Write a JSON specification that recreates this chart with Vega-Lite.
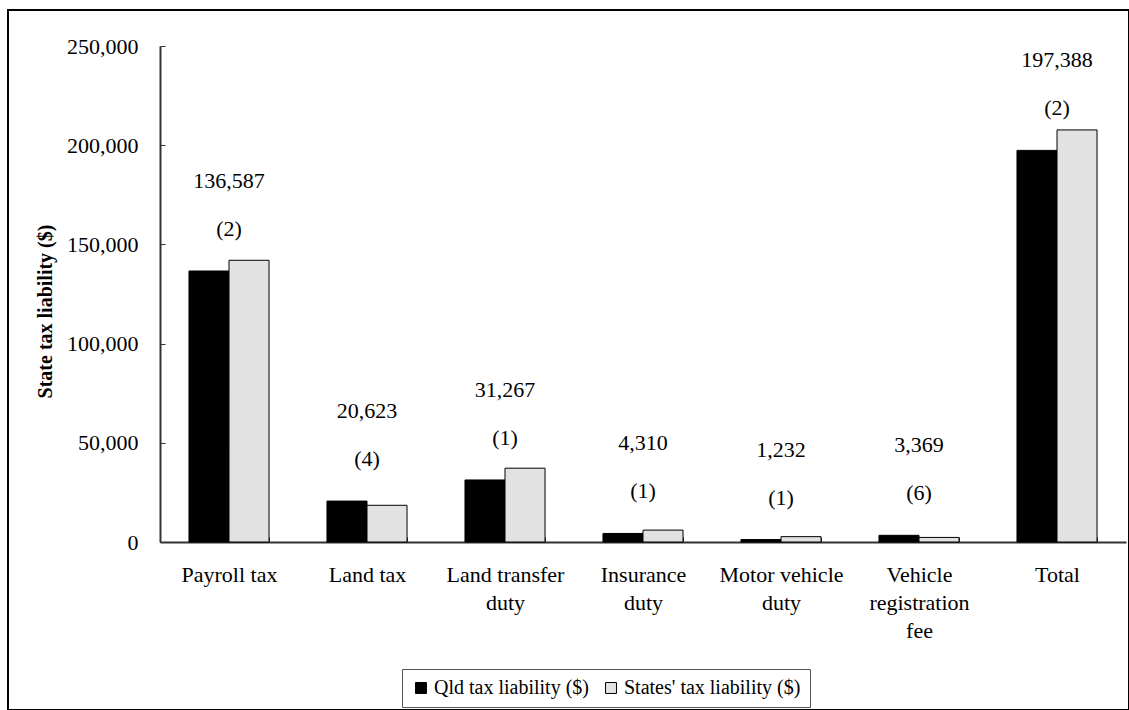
{
  "$schema": "https://vega.github.io/schema/vega-lite/v6.json",
  "autosize": "none",
  "width": 1121,
  "height": 700,
  "padding": {"left": 8, "top": 10, "right": 0, "bottom": 0},
  "background": "#ffffff",
  "config": {
    "view": {"stroke": "#000000", "strokeWidth": 2}
  },
  "data": {
    "values": [
      {"type": "Payroll tax", "series": "Qld tax liability ($)", "value": 136587, "cases": "(2)"},
      {"type": "Payroll tax", "series": "States' tax liability ($)", "value": 142000, "cases": "(2)"},
      {"type": "Land tax", "series": "Qld tax liability ($)", "value": 20623, "cases": "(4)"},
      {"type": "Land tax", "series": "States' tax liability ($)", "value": 18500, "cases": "(4)"},
      {"type": "Land transfer duty", "series": "Qld tax liability ($)", "value": 31267, "cases": "(1)"},
      {"type": "Land transfer duty", "series": "States' tax liability ($)", "value": 37200, "cases": "(1)"},
      {"type": "Insurance duty", "series": "Qld tax liability ($)", "value": 4310, "cases": "(1)"},
      {"type": "Insurance duty", "series": "States' tax liability ($)", "value": 6000, "cases": "(1)"},
      {"type": "Motor vehicle duty", "series": "Qld tax liability ($)", "value": 1232, "cases": "(1)"},
      {"type": "Motor vehicle duty", "series": "States' tax liability ($)", "value": 2700, "cases": "(1)"},
      {"type": "Vehicle registration fee", "series": "Qld tax liability ($)", "value": 3369, "cases": "(6)"},
      {"type": "Vehicle registration fee", "series": "States' tax liability ($)", "value": 2300, "cases": "(6)"},
      {"type": "Total", "series": "Qld tax liability ($)", "value": 197388, "cases": "(2)"},
      {"type": "Total", "series": "States' tax liability ($)", "value": 207700, "cases": "(2)"}
    ]
  },
  "encoding": {
    "x": {
      "field": "type",
      "type": "nominal",
      "sort": null,
      "scale": {"range": [152, 1118], "paddingInner": 0.42, "paddingOuter": 0.21},
      "axis": {
        "orient": "bottom",
        "offset": -168,
        "title": null,
        "labelAngle": 0,
        "labelFont": "Liberation Serif",
        "labelFontSize": 22,
        "labelColor": "#000000",
        "labelPadding": 27,
        "labelLineHeight": 28,
        "labelLimit": 0,
        "labelExpr": "datum.value == 'Land transfer duty' ? ['Land transfer', 'duty'] : datum.value == 'Insurance duty' ? ['Insurance', 'duty'] : datum.value == 'Motor vehicle duty' ? ['Motor vehicle', 'duty'] : datum.value == 'Vehicle registration fee' ? ['Vehicle', 'registration', 'fee'] : datum.value",
        "tickBand": "extent",
        "tickSize": -5,
        "tickColor": "#333333",
        "domainColor": "#333333",
        "domainWidth": 2
      }
    },
    "y": {
      "field": "value",
      "type": "quantitative",
      "title": "State tax liability ($)",
      "scale": {"domain": [0, 250000], "range": [532, 36], "nice": false, "zero": true},
      "axis": {
        "orient": "left",
        "offset": -152,
        "values": [0, 50000, 100000, 150000, 200000, 250000],
        "labelExpr": "format(datum.value, ',')",
        "grid": false,
        "labelFont": "Liberation Serif",
        "labelFontSize": 22,
        "labelColor": "#000000",
        "labelPadding": 27,
        "tickSize": -5,
        "tickColor": "#333333",
        "domainColor": "#333333",
        "domainWidth": 2,
        "titleFont": "Liberation Serif",
        "titleFontSize": 20,
        "titleFontWeight": "bold",
        "titleColor": "#000000",
        "titleAngle": -90,
        "titleAlign": "center",
        "titleBaseline": "middle",
        "titleX": -115,
        "titleY": 301
      }
    }
  },
  "layer": [
    {
      "mark": {"type": "bar", "stroke": "#000000", "strokeWidth": 1},
      "encoding": {
        "xOffset": {"field": "series", "sort": null},
        "fill": {
          "field": "series",
          "type": "nominal",
          "scale": {
            "domain": ["Qld tax liability ($)", "States' tax liability ($)"],
            "range": ["#000000", "#e2e2e2"]
          },
          "legend": {
            "orient": "none",
            "legendX": 394,
            "legendY": 659,
            "direction": "horizontal",
            "title": null,
            "symbolType": "square",
            "symbolSize": 120,
            "symbolStrokeColor": "#000000",
            "symbolStrokeWidth": 1,
            "labelFont": "Liberation Serif",
            "labelFontSize": 20,
            "labelColor": "#000000",
            "labelLimit": 400,
            "labelOffset": 3,
            "columnPadding": 12,
            "strokeColor": "#555555",
            "fillColor": "#ffffff",
            "padding": 9,
            "cornerRadius": 0
          }
        }
      }
    },
    {
      "transform": [{"filter": "datum.series == 'Qld tax liability ($)'"}],
      "mark": {"type": "text", "dy": -90, "fontSize": 22, "font": "Liberation Serif", "color": "#000000"},
      "encoding": {
        "text": {"field": "value", "type": "quantitative", "format": ","}
      }
    },
    {
      "transform": [{"filter": "datum.series == 'Qld tax liability ($)'"}],
      "mark": {"type": "text", "dy": -42, "fontSize": 22, "font": "Liberation Serif", "color": "#000000"},
      "encoding": {
        "text": {"field": "cases", "type": "nominal"}
      }
    }
  ]
}
